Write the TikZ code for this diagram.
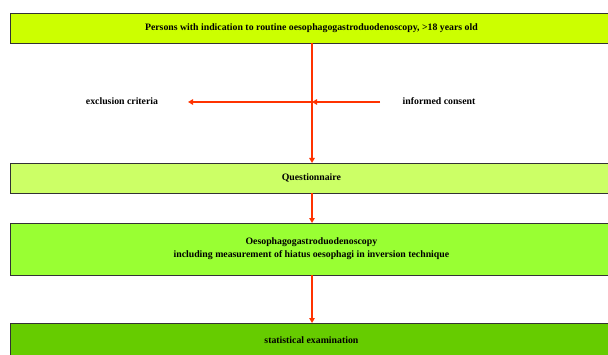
\documentclass[tikz,border=0pt]{standalone}
\usepackage{fontspec}
\setmainfont{Liberation Serif}
\usetikzlibrary{arrows.meta}
\definecolor{boxA}{HTML}{CCFF00}
\definecolor{boxB}{HTML}{CCFF66}
\definecolor{boxC}{HTML}{99FF33}
\definecolor{boxD}{HTML}{66CC00}
\definecolor{arr}{HTML}{FF3300}
\tikzset{
  stagebox/.style={draw=black!80, line width=0.8pt, minimum width=602pt, anchor=west, font=\bfseries\fontsize{9.8}{13}\selectfont, align=center, inner sep=0pt},
  lbl/.style={font=\bfseries\fontsize{9.8}{11}\selectfont, inner sep=0pt},
  flow/.style={draw=arr, line width=1.6pt, -{Triangle[length=5pt,width=5.5pt]}}
}
\begin{document}
\begin{tikzpicture}[x=1pt,y=1pt]
\useasboundingbox (0,0) rectangle (608,354);
\begin{scope}
\clip (0,0) rectangle (608,354);
\node[stagebox, fill=boxA, minimum height=30pt] (p) at (10,326) {Persons with indication to routine oesophagogastroduodenoscopy, >18 years old};
\node[stagebox, fill=boxB, minimum height=30pt] (q) at (10,176) {Questionnaire};
\node[stagebox, fill=boxC, minimum height=52pt] (o) at (10,105) {Oesophagogastroduodenoscopy\\including measurement of hiatus oesophagi in inversion technique};
\node[stagebox, fill=boxD, minimum height=34pt] (s) at (10,14) {statistical examination};
\end{scope}
\node[lbl] (ex) at (122,253) {exclusion criteria};
\node[lbl] (ic) at (439,253) {informed consent};
\coordinate (top) at (312,311);
\coordinate (qt) at (312,191);
\coordinate (mid) at (312,252);
\coordinate (icend) at (380,252);
\coordinate (exend) at (188,252);
\draw[flow] (top) -- (qt);
\draw[flow] (mid) -- (exend);
\draw[flow] (icend) -- (mid);
\draw[flow] (312,161) -- (312,131);
\draw[flow] (312,79) -- (312,31);
\end{tikzpicture}
\end{document}
